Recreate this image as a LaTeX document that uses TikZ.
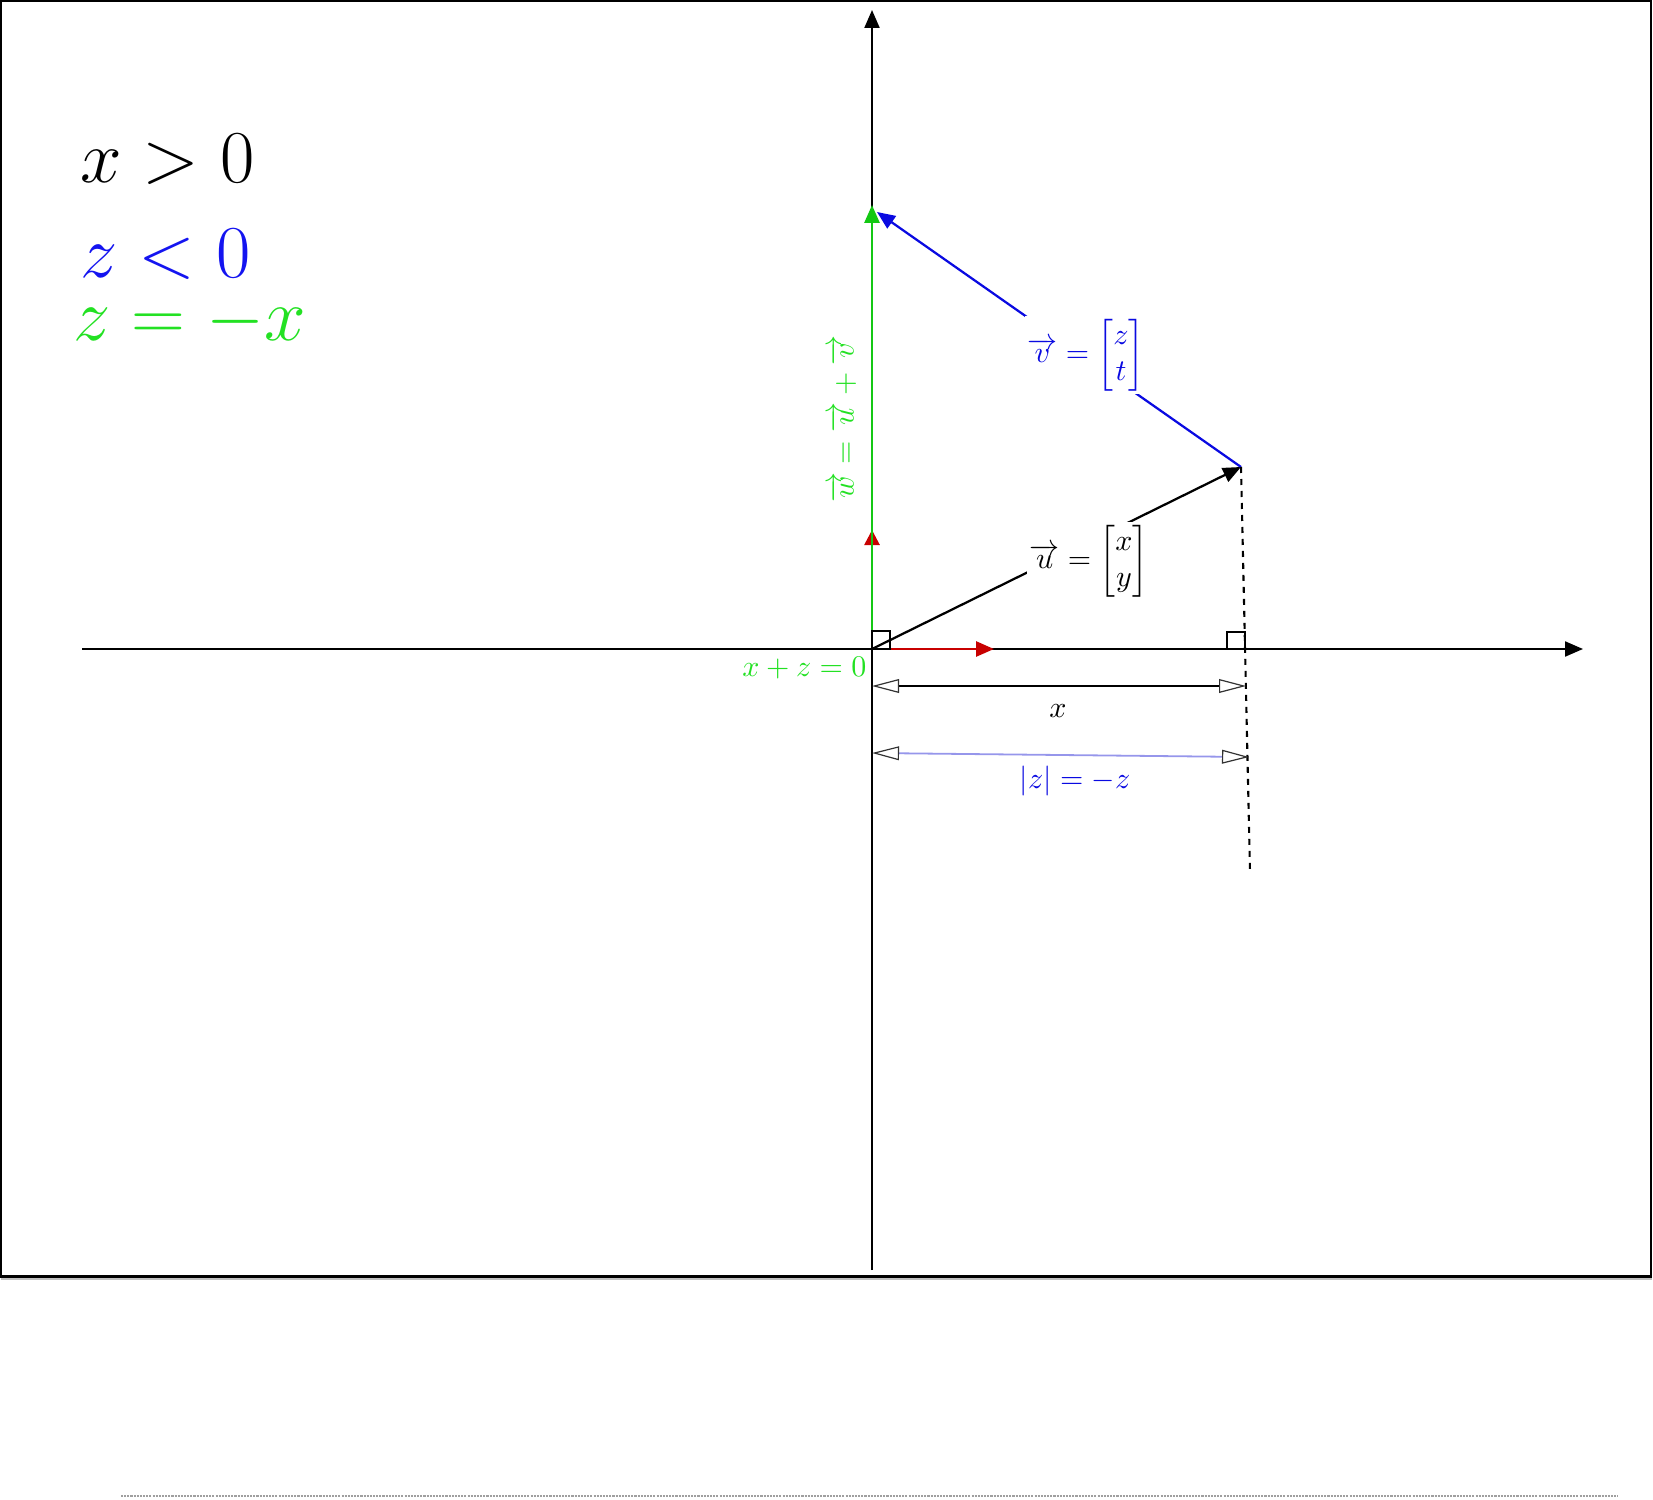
\documentclass[tikz,border=0pt]{standalone}
\usepackage{amsmath}
\usetikzlibrary{arrows.meta}
\definecolor{vblue}{RGB}{10,10,225}
\definecolor{lblue}{RGB}{20,20,240}
\definecolor{dimblue}{RGB}{150,150,235}
\definecolor{wgreen}{RGB}{20,200,20}
\definecolor{tgreen}{RGB}{35,225,35}
\definecolor{vred}{RGB}{200,0,0}
\begin{document}
\begin{tikzpicture}[x=0.33333pt,y=-0.33333pt,
  axisline/.style={line width=0.7pt,-{Triangle[length=6pt,width=5pt]}},
  vecline/.style={line width=0.75pt,-{Triangle[length=6pt,width=5pt]}},
  dimline/.style={line width=0.6pt,
    {Triangle[open,length=9pt,width=4.6pt,line width=0.4pt,color=black!80]}-{Triangle[open,length=9pt,width=4.6pt,line width=0.4pt,color=black!80]}},
  lbl/.style={fill=white,inner sep=1pt},
  legend/.style={anchor=base west,inner sep=0pt,font=\Huge},
  rightangle/.style={line width=0.6pt}]
\useasboundingbox (0,0) rectangle (1653,1499);
% frame
\coordinate (F1) at (1,1);
\coordinate (F2) at (1651,1276);
\coordinate (B1) at (0,1276.5);
\coordinate (B2) at (1652,1276.5);
\coordinate (S1) at (1,1279);
\coordinate (S2) at (1652,1279);
\draw[gray!50,line width=0.6pt] (S1) -- (S2);
\draw[line width=0.8pt] (F1) rectangle (F2);
\draw[line width=1.1pt] (B1) -- (B2);
% bottom dotted rule
\coordinate (D1) at (121,1496);
\coordinate (D2) at (1618,1496);
\draw[gray!75,line width=0.8pt,dash pattern=on 0.7pt off 0.35pt] (D1) -- (D2);
% key points
\coordinate (O) at (872,649);
\coordinate (U) at (1241,467);
\coordinate (W) at (872,205);
\coordinate (Vend) at (877,212);
\coordinate (Rv) at (872,530);
\coordinate (Rh) at (994,649);
\coordinate (Ytop) at (872,10);
\coordinate (Ybot) at (872,1270);
\coordinate (Xl) at (82,649);
\coordinate (Xr) at (1583,649);
\coordinate (Dend) at (1250,872);
\coordinate (Ax1) at (872,686);
\coordinate (Ax2) at (1246,686);
\coordinate (Az1) at (872,753);
\coordinate (Az2) at (1249,757);
% axes
\draw[axisline] (Xl) -- (Xr);
\draw[axisline] (Ybot) -- (Ytop);
% red unit vectors
\draw[vecline,vred,line width=0.9pt] (O) -- (Rh);
\draw[vecline,vred,line width=0.9pt,-{Triangle[length=5pt,width=5pt]}] (O) -- (Rv);
% green sum vector
\draw[vecline,wgreen,line width=0.95pt] (O) -- (W);
% u and v
\draw[vecline,black] (O) -- (U);
\draw[vecline,vblue] (U) -- (Vend);
% dashed projection
\draw[line width=0.7pt,dash pattern=on 2pt off 2pt] (U) -- (Dend);
% right angles
\coordinate (Q1a) at (872,631);
\coordinate (Q1b) at (890,649);
\coordinate (Q2a) at (1227,632);
\coordinate (Q2b) at (1245,649);
\draw[rightangle] (Q1a) rectangle (Q1b);
\draw[rightangle] (Q2a) rectangle (Q2b);
% dimension lines
\draw[dimline] (Ax1) -- (Ax2);
\draw[dimline,dimblue] (Az1) -- (Az2);
% labels
\node[lbl] (ulab) at (1089,561) {$\overrightarrow{u}=\begin{bmatrix}x\\y\end{bmatrix}$};
\node[lbl,text=vblue] (vlab) at (1086,355) {$\overrightarrow{v}=\begin{bmatrix}z\\t\end{bmatrix}$};
\node[text=tgreen,rotate=90,inner sep=0pt] (wlab) at (843,419) {$\overrightarrow{w}=\overrightarrow{u}+\overrightarrow{v}$};
\node[text=tgreen,anchor=base east,inner sep=0pt] (xz) at (867,676) {$x+z=0$};
\node (xlab) at (1058,711) {$x$};
\node[text=vblue] (zlab) at (1075,781) {$|z|=-z$};
% legend
\node[legend] (L1) at (80,183) {$x>0$};
\node[legend,text=lblue] (L2) at (80,278) {$z<0$};
\node[legend,text=tgreen] (L3) at (73,340) {$z=-x$};
\end{tikzpicture}
\end{document}
